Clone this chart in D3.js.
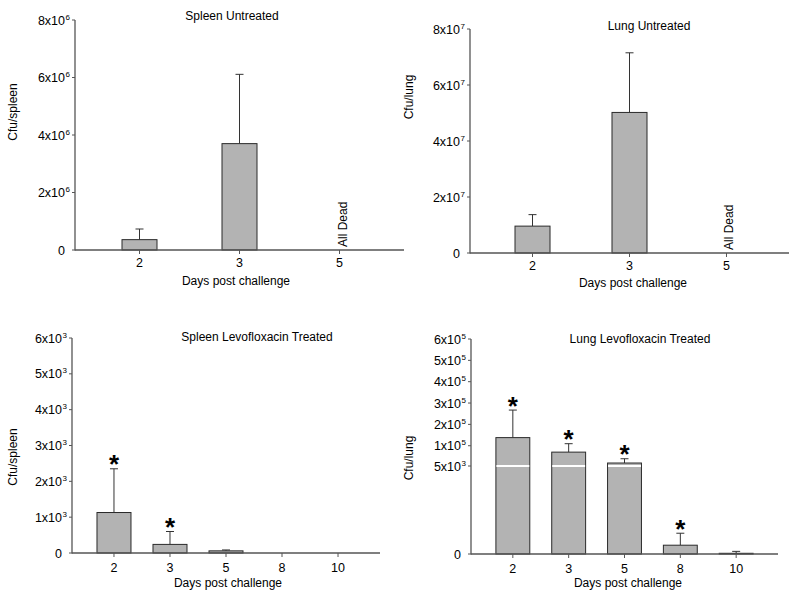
<!DOCTYPE html>
<html>
<head>
<meta charset="utf-8">
<script src="https://cdn.jsdelivr.net/npm/d3@7"></script>
<style>
  body { margin: 0; background: #fff; }
  svg { display: block; font-family: Arial, "Liberation Sans", sans-serif; }
</style>
</head>
<body>
<svg id="chart" width="800" height="595"></svg>
<script>
// ---------------- DATA ----------------
const untreatedDays = ["2", "3", "5"];
const treatedDays = ["2", "3", "5", "8", "10"];

const spleenUntreatedMean = [3.6e5, 3.70e6, null];
const spleenUntreatedSD   = [3.7e5, 2.41e6, null];
const spleenUntreatedTicks = [0, 2e6, 4e6, 6e6, 8e6];

const lungUntreatedMean = [9.6e6, 5.02e7, null];
const lungUntreatedSD   = [4.1e6, 2.13e7, null];
const lungUntreatedTicks = [0, 2e7, 4e7, 6e7, 8e7];

const spleenTreatedMean = [1130, 240, 60, 0, 0];
const spleenTreatedSD   = [1220, 360, 25, 0, 0];
const spleenTreatedSig  = [true, true, false, false, false];
const spleenTreatedTicks = [0, 1e3, 2e3, 3e3, 4e3, 5e3, 6e3];

const lungTreatedMean = [1.38e5, 7.0e4, 1.9e4, 500, 40];
const lungTreatedSD   = [1.29e5, 3.95e4, 2.0e4, 680, 110];
const lungTreatedSig  = [true, true, true, true, false];
const lungTreatedTicks = [0, 5e3, 1e5, 2e5, 3e5, 4e5, 5e5, 6e5];
const lungTreatedBreak = 5e3;

const deadLabel = "All Dead";
const xTitle = "Days post challenge";

// ---------------- DRAW ----------------
const svg = d3.select("#chart");
const axisColor = "#555";
const barFill = "#b3b3b3";
const barStroke = "#2a2a2a";

function tickLabel(v) {
  if (v === 0) return ["0", ""];
  const e = Math.floor(Math.log10(v) + 1e-9);
  const m = Math.round(v / Math.pow(10, e));
  return [m + "x10", String(e)];
}

function panel(cfg) {
  const g = svg.append("g");
  const x = d3.scaleBand().domain(cfg.days)
    .range([cfg.left, cfg.right])
    .paddingInner(cfg.pi).paddingOuter(cfg.po);
  const y = d3.scaleLinear().domain(cfg.yDomain).range(cfg.yRange);
  const y0 = y(0), yTop = y(cfg.yDomain[cfg.yDomain.length - 1]);

  // bars
  cfg.days.forEach((d, i) => {
    const m = cfg.mean[i];
    if (m === null) return;
    const bx = x(d), bw = x.bandwidth();
    const cx = bx + bw / 2;
    const top = y(m);
    const errTop = y(m + cfg.sd[i]);
    // error bar
    if (cfg.sd[i] > 0) {
      g.append("line").attr("x1", cx).attr("x2", cx).attr("y1", top).attr("y2", errTop)
        .attr("stroke", "#333").attr("stroke-width", 1);
      g.append("line").attr("x1", cx - 4).attr("x2", cx + 4).attr("y1", errTop).attr("y2", errTop)
        .attr("stroke", "#333").attr("stroke-width", 1);
    }
    if (y0 - top > 0.3) {
      g.append("rect").attr("x", bx).attr("y", top).attr("width", bw).attr("height", y0 - top)
        .attr("fill", barFill).attr("stroke", barStroke).attr("stroke-width", 1);
    }
    if (cfg.breakVal !== undefined && m > cfg.breakVal) {
      g.append("line").attr("x1", bx + 0.5).attr("x2", bx + bw - 0.5)
        .attr("y1", y(cfg.breakVal)).attr("y2", y(cfg.breakVal))
        .attr("stroke", "#fff").attr("stroke-width", 2);
    }
    if (cfg.sig && cfg.sig[i]) {
      g.append("text").attr("x", cx).attr("y", errTop + 4.5)
        .attr("text-anchor", "middle").attr("font-size", 26).attr("font-weight", "bold")
        .attr("fill", "#000").text("*");
    }
  });

  // dead labels
  cfg.days.forEach((d, i) => {
    if (cfg.mean[i] !== null) return;
    const cx = x(d) + x.bandwidth() / 2;
    g.append("text")
      .attr("transform", `translate(${cx + 7},${y0 - 3}) rotate(-90)`)
      .attr("font-size", 12).attr("fill", "#000").text(deadLabel);
  });

  // x axis
  g.append("line").attr("x1", cfg.left).attr("x2", cfg.right).attr("y1", y0).attr("y2", y0)
    .attr("stroke", axisColor).attr("stroke-width", 1.3);
  cfg.days.forEach(d => {
    const cx = x(d) + x.bandwidth() / 2;
    g.append("line").attr("x1", cx).attr("x2", cx).attr("y1", y0).attr("y2", y0 + 4)
      .attr("stroke", axisColor).attr("stroke-width", 1);
    g.append("text").attr("x", cx).attr("y", y0 + cfg.xTickDy)
      .attr("text-anchor", "middle").attr("font-size", 12.5).attr("fill", "#000").text(d);
  });

  // y axis
  g.append("line").attr("x1", cfg.left).attr("x2", cfg.left).attr("y1", y0 + 0.6).attr("y2", yTop)
    .attr("stroke", axisColor).attr("stroke-width", 1.3);
  cfg.ticks.forEach(t => {
    const ty = y(t);
    g.append("line").attr("x1", cfg.left - 3).attr("x2", cfg.left).attr("y1", ty).attr("y2", ty)
      .attr("stroke", axisColor).attr("stroke-width", 1);
    const [base, sup] = tickLabel(t);
    const ex = cfg.left - 10;
    g.append("text").attr("x", ex).attr("y", ty + 4.5)
      .attr("text-anchor", "end").attr("font-size", 12.5).attr("fill", "#000").text(base);
    if (sup) {
      g.append("text").attr("x", ex + 0.5).attr("y", ty - 0.5)
        .attr("font-size", 8).attr("fill", "#000").text(sup);
    }
  });

  // titles
  g.append("text").attr("x", cfg.titleX).attr("y", cfg.titleY)
    .attr("text-anchor", "middle").attr("font-size", 12).attr("fill", "#000").text(cfg.title);
  g.append("text").attr("x", cfg.xTitleX).attr("y", cfg.xTitleY)
    .attr("text-anchor", "middle").attr("font-size", 12).attr("fill", "#000").text(xTitle);
  g.append("text")
    .attr("transform", `translate(${cfg.yTitleX},${cfg.yTitleY}) rotate(-90)`)
    .attr("text-anchor", "middle").attr("dy", "0.35em")
    .attr("font-size", 12).attr("fill", "#000").text(cfg.yTitle);
}

panel({
  days: untreatedDays, mean: spleenUntreatedMean, sd: spleenUntreatedSD,
  ticks: spleenUntreatedTicks, yDomain: [0, 8e6], yRange: [250, 20],
  left: 75, right: 404, pi: 0.65, po: 0.47, xTickDy: 17,
  title: "Spleen Untreated", titleX: 232, titleY: 20,
  xTitleX: 236, xTitleY: 285, yTitle: "Cfu/spleen", yTitleX: 13, yTitleY: 112
});

panel({
  days: untreatedDays, mean: lungUntreatedMean, sd: lungUntreatedSD,
  ticks: lungUntreatedTicks, yDomain: [0, 8e7], yRange: [253, 29],
  left: 470, right: 789, pi: 0.639, po: 0.464, xTickDy: 17,
  title: "Lung Untreated", titleX: 649, titleY: 30,
  xTitleX: 633, xTitleY: 287, yTitle: "Cfu/lung", yTitleX: 409, yTitleY: 97
});

panel({
  days: treatedDays, mean: spleenTreatedMean, sd: spleenTreatedSD, sig: spleenTreatedSig,
  ticks: spleenTreatedTicks, yDomain: [0, 6e3], yRange: [553, 338],
  left: 72, right: 380, pi: 0.393, po: 0.446, xTickDy: 19,
  title: "Spleen Levofloxacin Treated", titleX: 257, titleY: 341,
  xTitleX: 228, xTitleY: 587, yTitle: "Cfu/spleen", yTitleX: 13, yTitleY: 457
});

panel({
  days: treatedDays, mean: lungTreatedMean, sd: lungTreatedSD, sig: lungTreatedSig,
  ticks: lungTreatedTicks, yDomain: [0, lungTreatedBreak, 6e5], yRange: [554, 466, 339],
  breakVal: lungTreatedBreak,
  left: 471, right: 778, pi: 0.393, po: 0.446, xTickDy: 19,
  title: "Lung Levofloxacin Treated", titleX: 640, titleY: 343,
  xTitleX: 628, xTitleY: 587, yTitle: "Cfu/lung", yTitleX: 409, yTitleY: 458
});
</script>
</body>
</html>
